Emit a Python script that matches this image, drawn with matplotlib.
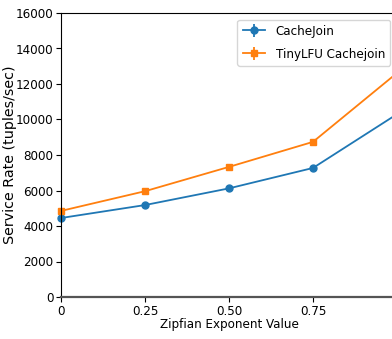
import numpy as np
import matplotlib
matplotlib.use("Agg")
import matplotlib.pyplot as plt

# values
zipf = [0, 0.25, 0.5, 0.75, 1.0]
xtick_labels = ['0', '0.25', '0.50', '0.75', '']
cachejoin = [4450, 5180, 6120, 7270, 10300]
cachejoin_err = [120, 100, 110, 120, 150]
tinylfu = [4850, 5960, 7330, 8740, 12620]
tinylfu_err = [180, 120, 120, 130, 150]
yticks = [0, 2000, 4000, 6000, 8000, 10000, 12000, 14000, 16000]

fig = plt.figure(figsize=(3.92, 3.39), dpi=100)
ax = fig.add_axes([61 / 392, 42 / 339, 336 / 392, 284 / 339])

ax.errorbar(zipf, cachejoin, yerr=cachejoin_err, marker='o', markersize=5,
            color='#1f77b4', linewidth=1.3, label='CacheJoin', clip_on=False)
ax.errorbar(zipf, tinylfu, yerr=tinylfu_err, marker='s', markersize=5,
            color='#ff7f0e', linewidth=1.3, label='TinyLFU Cachejoin', clip_on=False)

ax.set_xlim(0, 1.0)
ax.set_ylim(0, 16000)
ax.set_xticks(zipf)
ax.set_xticklabels(xtick_labels)
ax.set_yticks(yticks)

for lab in ax.get_xticklabels() + ax.get_yticklabels():
    lab.set_fontstretch('condensed')
    lab.set_fontsize(9.5)
ax.tick_params(length=3.5, pad=2)

ax.spines['bottom'].set_color('#555555')
ax.spines['bottom'].set_linewidth(1.6)

ax.set_xlabel('Zipfian Exponent Value', fontsize=9.5, stretch='condensed', labelpad=0)
ax.set_ylabel('Service Rate (tuples/sec)', fontsize=10.3)
ax.yaxis.set_label_coords(-44 / 336, 0.5)

ax.legend(loc='upper right', prop={'size': 9.5, 'stretch': 'condensed'},
          labelspacing=0.75, handlelength=1.7)

fig.savefig('out.png', dpi=100)
